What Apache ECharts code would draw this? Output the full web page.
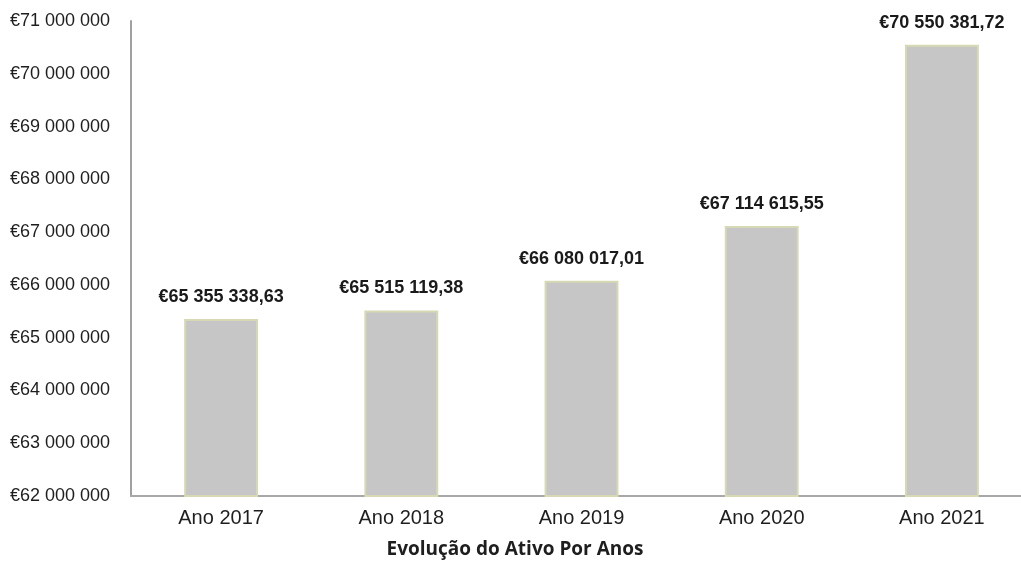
<!DOCTYPE html>
<html>
<head>
<meta charset="utf-8">
<script src="https://cdn.jsdelivr.net/npm/echarts@6/dist/echarts.min.js"></script>
<style>
  html, body { margin: 0; padding: 0; background: #fff; overflow: hidden; }
  /* a área do gráfico ultrapassa um pouco a janela à direita, como no original */
  #chart { width: 1032px; height: 569px; }
</style>
</head>
<body>
<div id="chart"></div>
<script>
// dados do gráfico
var anos = ['Ano 2017', 'Ano 2018', 'Ano 2019', 'Ano 2020', 'Ano 2021'];
var ativo = [65355338.63, 65515119.38, 66080017.01, 67114615.55, 70550381.72];
var yMin = 62000000, yMax = 71000000, yStep = 1000000;

// €65 355 338,63
function euro(v, dec) {
  var parts = v.toFixed(dec).split('.');
  var int = parts[0].replace(/\B(?=(\d{3})+(?!\d))/g, ' ');
  return '€' + int + (parts[1] ? ',' + parts[1] : '');
}

var chart = echarts.init(document.getElementById('chart'));
chart.setOption({
  backgroundColor: '#fff',
  animation: false,
  title: {
    text: 'Evolução do Ativo Por Anos',
    left: 510, top: 535, textAlign: 'center',
    textStyle: { fontFamily: 'Open Sans', fontWeight: 'bold', fontSize: 19, color: '#1e1e1e' }
  },
  grid: { left: 131, right: 0, top: 21, bottom: 73 },
  xAxis: {
    type: 'category',
    data: anos,
    axisTick: { show: false },
    axisLine: { lineStyle: { color: '#a8a8a8', width: 2 } },
    axisLabel: { color: '#1e1e1e', fontFamily: 'Liberation Sans', fontSize: 20, margin: 12 }
  },
  yAxis: {
    type: 'value',
    min: yMin, max: yMax, interval: yStep,
    splitLine: { show: false },
    axisTick: { show: false },
    axisLine: { show: true, lineStyle: { color: '#a0a0a0', width: 2 } },
    axisLabel: {
      color: '#1e1e1e', fontFamily: 'Liberation Sans', fontSize: 18, margin: 21,
      formatter: function (v) { return euro(v, 0); }
    }
  },
  series: [{
    type: 'bar',
    data: ativo,
    barWidth: '41%',
    itemStyle: { color: '#c6c6c6', borderColor: '#d6d9b4', borderWidth: 2 },
    label: {
      show: true, position: 'top', distance: 13,
      color: '#1a1a1a', fontFamily: 'Liberation Sans', fontWeight: 'bold', fontSize: 18,
      formatter: function (p) { return euro(p.value, 2); }
    }
  }]
});
</script>
</body>
</html>
